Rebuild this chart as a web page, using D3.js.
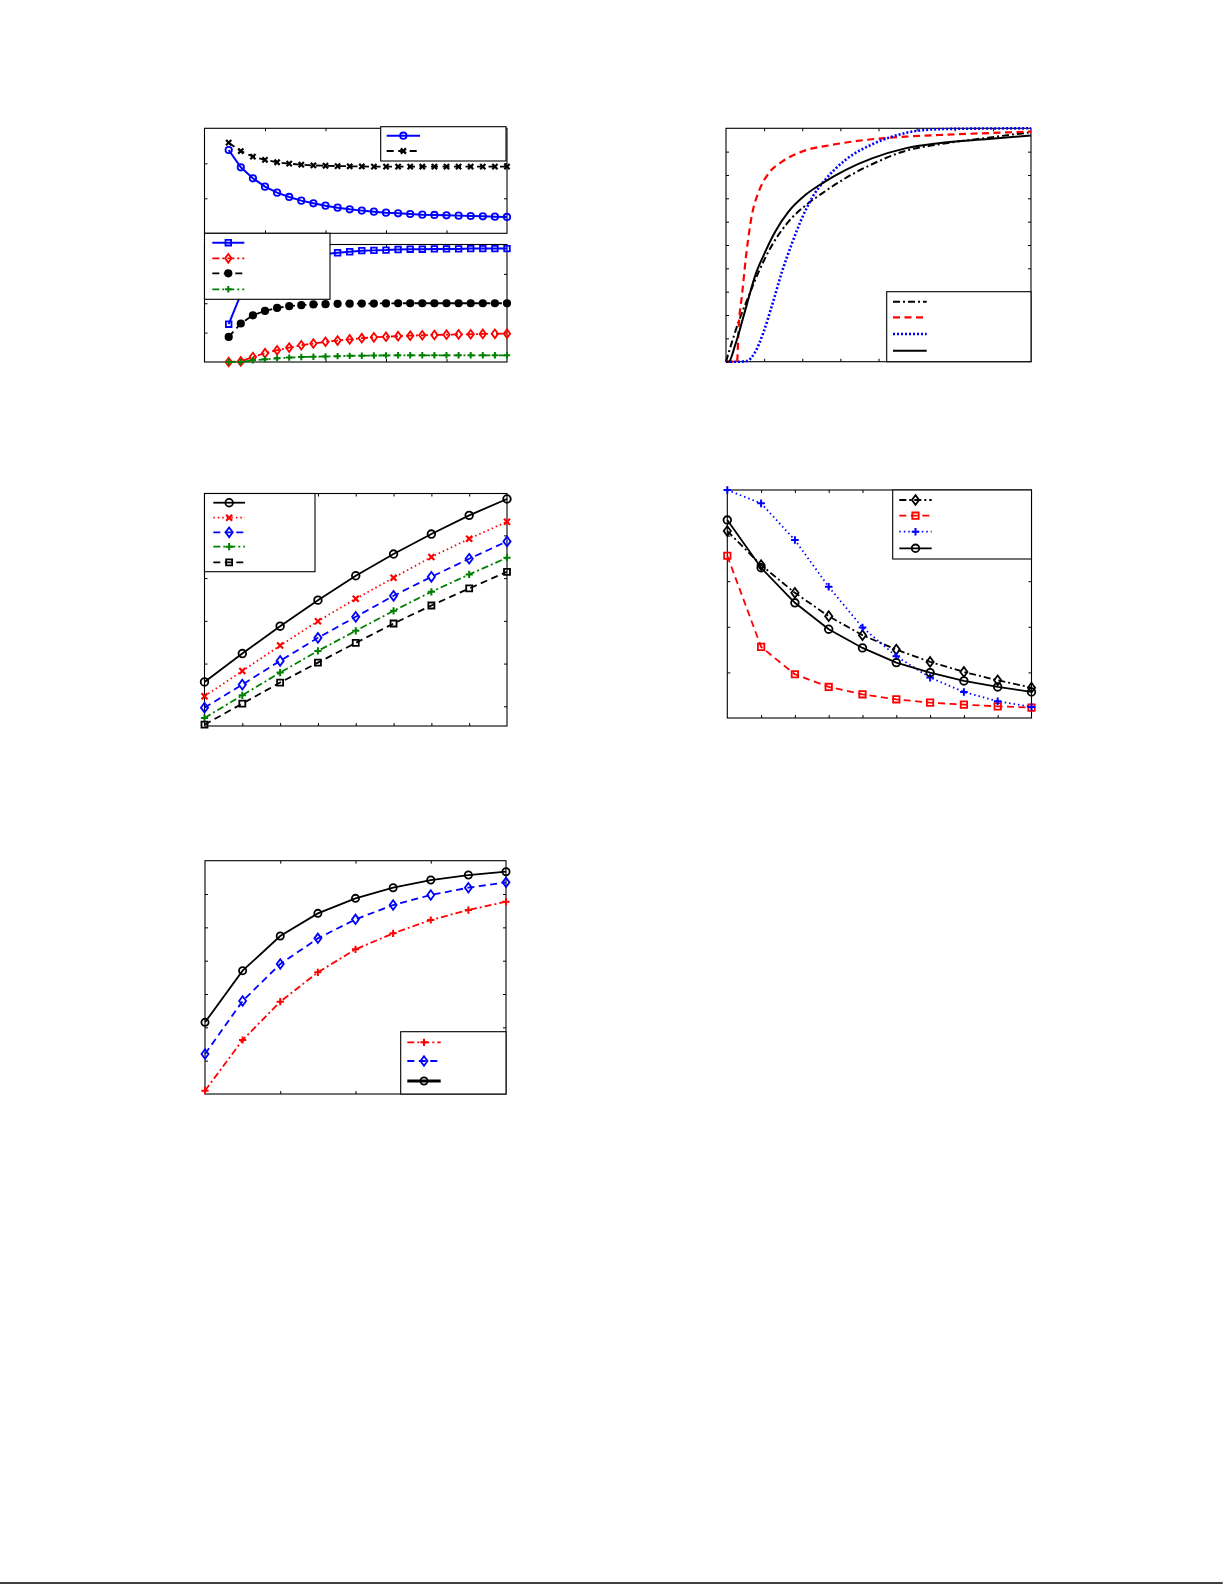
<!DOCTYPE html>
<html>
<head>
<meta charset="utf-8">
<script src="https://cdn.jsdelivr.net/npm/d3@7"></script>
<style>
  body { margin: 0; background: #fff; }
</style>
</head>
<body>
<svg id="page" width="1225" height="1585"></svg>
<script>
// ---- panel 1 (top left), two stacked axes, x = 2..25
var p1X = [2,3,4,5,6,7,8,9,10,11,12,13,14,15,16,17,18,19,20,21,22,23,24,25];
// upper axes
var p1Circle = [2.38,1.886,1.571,1.333,1.162,1.038,0.933,0.857,0.79,0.733,0.686,0.648,0.619,0.59,0.571,0.552,0.533,0.524,0.514,0.505,0.495,0.486,0.476,0.467];
var p1Cross  = [2.59,2.35,2.19,2.1,2.03,1.99,1.96,1.94,1.93,1.92,1.915,1.91,1.905,1.905,1.905,1.905,1.905,1.905,1.905,1.905,1.905,1.905,1.905,1.905];
// lower axes
var p1Square  = [1.287,2.3,2.85,3.15,3.35,3.48,3.57,3.63,3.68,3.72,3.754,3.79,3.8,3.81,3.83,3.84,3.84,3.85,3.85,3.85,3.86,3.86,3.86,3.86];
var p1Diamond = [0,0.02,0.17,0.3,0.4,0.49,0.57,0.63,0.69,0.73,0.77,0.81,0.84,0.86,0.88,0.895,0.91,0.92,0.93,0.94,0.945,0.955,0.96,0.965];
var p1Dot     = [0.855,1.31,1.59,1.74,1.84,1.9,1.935,1.96,1.97,1.98,1.985,1.99,1.99,1.995,2,2,2,2,2,2,2,2,2,2];
var p1Plus    = [0,0,0.06,0.09,0.125,0.15,0.17,0.18,0.19,0.2,0.21,0.215,0.22,0.225,0.228,0.228,0.228,0.228,0.228,0.228,0.228,0.228,0.228,0.228];

// ---- panel 2 (top right), smooth curves
var p2DashDotX = [0,0.16,0.33,0.59,0.86,1.21,1.64,2.08,2.52,3.13,3.83,4.7,5.57,6.88,8];
var p2DashDotY = [0,0.086,0.171,0.279,0.386,0.5,0.6,0.669,0.721,0.786,0.846,0.903,0.931,0.96,0.983];
var p2DashedX  = [0,0.29,0.33,0.42,0.55,0.68,0.86,1.12,1.47,1.99,2.78,3.65,4.7,6.01,8];
var p2DashedY  = [0,0,0.143,0.286,0.486,0.629,0.729,0.807,0.857,0.9,0.929,0.95,0.964,0.974,0.986];
var p2DottedX  = [0,0.33,0.55,0.77,0.99,1.21,1.47,1.73,1.99,2.25,2.6,3.13,3.83,4.35,5.05,5.75,8];
var p2DottedY  = [0,0,0.003,0.043,0.129,0.243,0.386,0.507,0.614,0.7,0.779,0.864,0.931,0.964,0.99,0.997,1];
var p2SolidX   = [0,0.07,0.24,0.42,0.59,0.77,0.99,1.29,1.64,2.08,2.52,3.13,3.83,4.7,5.57,6.88,8];
var p2SolidY   = [0,0,0.071,0.171,0.271,0.371,0.457,0.557,0.643,0.714,0.764,0.821,0.871,0.914,0.936,0.954,0.969];

// ---- panel 3 (middle left), x = 1..9
var p3X = [1,2,3,4,5,6,7,8,9];
var p3Circle  = [1.57,2.234,2.875,3.484,4.055,4.563,5.031,5.469,5.852];
var p3Cross   = [1.234,1.828,2.422,2.992,3.516,4.008,4.492,4.922,5.32];
var p3Diamond = [0.969,1.508,2.063,2.602,3.094,3.586,4.031,4.453,4.859];
var p3Plus    = [0.727,1.258,1.789,2.297,2.766,3.234,3.68,4.086,4.477];
var p3Square  = [0.57,1.063,1.555,2.023,2.484,2.938,3.359,3.758,4.148];

// ---- panel 4 (middle right), x = 1..10
var p4X = [1,2,3,4,5,6,7,8,9,10];
var p4Diamond = [4.1,3.353,2.745,2.233,1.816,1.501,1.23,1.01,0.827,0.666];
var p4Square  = [3.558,1.559,0.959,0.681,0.52,0.41,0.337,0.293,0.256,0.227];
var p4Plus    = [5,4.707,3.902,2.877,1.984,1.354,0.886,0.571,0.366,0.242];
var p4Circle  = [4.341,3.294,2.526,1.947,1.537,1.215,0.996,0.813,0.681,0.571];

// ---- panel 5 (bottom left), x = 1..9
var p5X = [1,2,3,4,5,6,7,8,9];
var p5Plus    = [0.1,1.62,2.77,3.65,4.34,4.82,5.22,5.52,5.77];
var p5Diamond = [1.2,2.79,3.9,4.67,5.24,5.67,5.97,6.19,6.35];
var p5Circle  = [2.15,3.7,4.74,5.42,5.87,6.19,6.42,6.57,6.67];

var svg = d3.select('#page');

var dashes = { solid: null, dashed: '7,4.5', dotted: '1.5,3', dashdot: '7,3,2,3', fine: '2,2' };

// one axes box with inward ticks on all four sides
function panel(box, xDom, yDom, xTicks, yTicks) {
    var x = d3.scaleLinear().domain(xDom).range([box.left, box.right]);
    var y = d3.scaleLinear().domain(yDom).range([box.bottom, box.top]);
    var g = svg.append('g');
    var axes = [
        [d3.axisBottom(x).tickValues(xTicks), 'translate(0,' + box.bottom + ')'],
        [d3.axisTop(x).tickValues(xTicks), 'translate(0,' + box.top + ')'],
        [d3.axisLeft(y).tickValues(yTicks), 'translate(' + box.left + ',0)'],
        [d3.axisRight(y).tickValues(yTicks), 'translate(' + box.right + ',0)']
    ];
    axes.forEach(function(a) {
        var ax = g.append('g').attr('transform', a[1])
            .call(a[0].tickSizeInner(-3).tickSizeOuter(0).tickFormat(''));
        ax.select('.domain').remove();
        ax.selectAll('line').attr('stroke', '#000').attr('stroke-width', 1);
    });
    g.append('rect')
        .attr('x', box.left).attr('y', box.top)
        .attr('width', box.right - box.left).attr('height', box.bottom - box.top)
        .attr('fill', 'none').attr('stroke', '#000').attr('stroke-width', 1.1);
    return { g: g, x: x, y: y };
}

function marker(g, cx, cy, st) {
    var s = st.size || 3.5;
    var m;
    if (st.marker === 'circle' || st.marker === 'dot') {
        m = g.append('circle').attr('cx', cx).attr('cy', cy).attr('r', s);
    } else {
        var d;
        if (st.marker === 'square') d = 'M' + (-s) + ',' + (-s) + 'H' + s + 'V' + s + 'H' + (-s) + 'Z';
        if (st.marker === 'diamond') d = 'M0,' + (-s * 1.35) + 'L' + s + ',0L0,' + (s * 1.35) + 'L' + (-s) + ',0Z';
        if (st.marker === 'plus') d = 'M' + (-s) + ',0H' + s + 'M0,' + (-s) + 'V' + s;
        if (st.marker === 'x') d = 'M' + (-s) + ',' + (-s) + 'L' + s + ',' + s + 'M' + (-s) + ',' + s + 'L' + s + ',' + (-s);
        m = g.append('path').attr('d', d).attr('transform', 'translate(' + cx + ',' + cy + ')');
    }
    m.attr('fill', st.marker === 'dot' ? st.color : 'none')
        .attr('stroke', st.color)
        .attr('stroke-width', st.mw || 1.8);
}

function series(p, xs, ys, st) {
    var pts = xs.map(function(d, i) { return [d, ys[i]]; });
    var line = d3.line()
        .x(function(d) { return p.x(d[0]); })
        .y(function(d) { return p.y(d[1]); })
        .curve(st.curve || d3.curveLinear);
    p.g.append('path')
        .attr('d', line(pts))
        .attr('fill', 'none')
        .attr('stroke', st.color)
        .attr('stroke-width', st.width || 1.8)
        .attr('stroke-dasharray', dashes[st.dash]);
    if (st.marker) {
        pts.forEach(function(d) { marker(p.g, p.x(d[0]), p.y(d[1]), st); });
    }
}

// legend box: entries drawn as short line samples, no text visible in the source
function legend(box, lineX, rows) {
    var g = svg.append('g');
    g.append('rect')
        .attr('x', box[0]).attr('y', box[1])
        .attr('width', box[2] - box[0]).attr('height', box[3] - box[1])
        .attr('fill', '#fff').attr('stroke', '#000').attr('stroke-width', 1.1);
    rows.forEach(function(r) {
        var st = r[1];
        g.append('line')
            .attr('x1', lineX[0]).attr('x2', lineX[1])
            .attr('y1', r[0]).attr('y2', r[0])
            .attr('stroke', st.color)
            .attr('stroke-width', st.legendWidth || st.width || 1.8)
            .attr('stroke-dasharray', dashes[st.dash]);
        if (st.marker) marker(g, (lineX[0] + lineX[1]) / 2, r[0], st);
    });
}

// ---------- panel 1
var s1Circle  = { color: '#0000ff', dash: 'solid', marker: 'circle', size: 3.2, width: 2 };
var s1Cross   = { color: '#000', dash: 'dashed', marker: 'x', size: 2.6, mw: 2.2 };
var s1Square  = { color: '#0000ff', dash: 'solid', marker: 'square', size: 2.8, width: 2 };
var s1Diamond = { color: '#ff0000', dash: 'dashdot', marker: 'diamond', size: 3.2, mw: 1.8 };
var s1Dot     = { color: '#000', dash: 'dashed', marker: 'dot', size: 3.2 };
var s1Plus    = { color: '#008000', dash: 'dashdot', marker: 'plus', size: 3.2, mw: 2 };

var p1a = panel({ left: 204.5, right: 507, top: 128.3, bottom: 233.3 }, [0, 25], [0, 3], [5, 10, 15, 20], [1, 2]);
series(p1a, p1X, p1Cross, s1Cross);
series(p1a, p1X, p1Circle, s1Circle);
var p1b = panel({ left: 204.5, right: 507, top: 244.5, bottom: 362 }, [0, 25], [0, 4], [5, 10, 15, 20], [1, 2, 3]);
series(p1b, p1X, p1Square, s1Square);
series(p1b, p1X, p1Diamond, s1Diamond);
series(p1b, p1X, p1Dot, s1Dot);
series(p1b, p1X, p1Plus, s1Plus);
legend([380.7, 126.7, 506, 161], [386.7, 420], [[135.7, s1Circle], [151, s1Cross]]);
legend([204.5, 233.3, 330, 299.3], [212.3, 244.3], [[242.7, s1Square], [258.3, s1Diamond], [273.3, s1Dot], [289.3, s1Plus]]);

// ---------- panel 2
var s2DashDot = { color: '#000', dash: 'dashdot', width: 2, curve: d3.curveMonotoneX };
var s2Dashed  = { color: '#ff0000', dash: 'dashed', width: 2.2, curve: d3.curveMonotoneX };
var s2Dotted  = { color: '#0000ff', dash: 'fine', width: 2.6, curve: d3.curveMonotoneX };
var s2Solid   = { color: '#000', dash: 'solid', width: 2, curve: d3.curveMonotoneX };

var p2 = panel({ left: 726, right: 1031, top: 128.3, bottom: 361.7 }, [0, 8], [0, 1],
    [1, 2, 3, 4, 5, 6, 7], [0.1, 0.2, 0.3, 0.4, 0.5, 0.6, 0.7, 0.8, 0.9]);
series(p2, p2DashDotX, p2DashDotY, s2DashDot);
series(p2, p2DashedX, p2DashedY, s2Dashed);
series(p2, p2DottedX, p2DottedY, s2Dotted);
series(p2, p2SolidX, p2SolidY, s2Solid);
legend([886.7, 291.7, 1031, 361.7], [893, 926.7], [[301.7, s2DashDot], [317.3, s2Dashed], [334, s2Dotted], [350.7, s2Solid]]);

// ---------- panel 3
var s3Circle  = { color: '#000', dash: 'solid', marker: 'circle', size: 3.8 };
var s3Cross   = { color: '#ff0000', dash: 'dotted', marker: 'x', size: 3, mw: 2.2 };
var s3Diamond = { color: '#0000ff', dash: 'dashed', marker: 'diamond', size: 3.6 };
var s3Plus    = { color: '#008000', dash: 'dashdot', marker: 'plus', size: 3.6, mw: 2 };
var s3Square  = { color: '#000', dash: 'dashed', marker: 'square', size: 3 };

var p3 = panel({ left: 204.5, right: 507, top: 493.5, bottom: 726 }, [1, 9], [0.539, 5.98],
    [2, 3, 4, 5, 6, 7, 8], [1, 2, 3, 4, 5]);
series(p3, p3X, p3Circle, s3Circle);
series(p3, p3X, p3Cross, s3Cross);
series(p3, p3X, p3Diamond, s3Diamond);
series(p3, p3X, p3Plus, s3Plus);
series(p3, p3X, p3Square, s3Square);
legend([204.5, 493.5, 315, 571.7], [213.3, 245], [[502.7, s3Circle], [517.7, s3Cross], [532.3, s3Diamond], [546.7, s3Plus], [562.3, s3Square]]);

// ---------- panel 4
var s4Diamond = { color: '#000', dash: 'dashdot', marker: 'diamond', size: 3.6 };
var s4Square  = { color: '#ff0000', dash: 'dashed', marker: 'square', size: 3.2 };
var s4Plus    = { color: '#0000ff', dash: 'dotted', marker: 'plus', size: 3.8, mw: 2 };
var s4Circle  = { color: '#000', dash: 'solid', marker: 'circle', size: 3.8 };

var p4 = panel({ left: 727.3, right: 1031.5, top: 490, bottom: 718 }, [1, 10], [0, 5],
    [2, 3, 4, 5, 6, 7, 8, 9], [1, 2, 3, 4]);
series(p4, p4X, p4Diamond, s4Diamond);
series(p4, p4X, p4Square, s4Square);
series(p4, p4X, p4Plus, s4Plus);
series(p4, p4X, p4Circle, s4Circle);
legend([892.7, 490, 1031.5, 559], [899.3, 931.7], [[500, s4Diamond], [515.7, s4Square], [531.7, s4Plus], [548.3, s4Circle]]);

// ---------- panel 5
var s5Plus    = { color: '#ff0000', dash: 'dashdot', marker: 'plus', size: 3.6, mw: 2 };
var s5Diamond = { color: '#0000ff', dash: 'dashed', marker: 'diamond', size: 3.5 };
var s5Circle  = { color: '#000', dash: 'solid', marker: 'circle', size: 3.6, legendWidth: 2.8 };

var p5 = panel({ left: 205, right: 506, top: 860.7, bottom: 1094 }, [1, 9], [0, 7],
    [3, 5, 7], [1, 2, 3, 4, 5, 6]);
series(p5, p5X, p5Plus, s5Plus);
series(p5, p5X, p5Diamond, s5Diamond);
series(p5, p5X, p5Circle, s5Circle);
legend([400.7, 1031.7, 506, 1094], [407.3, 440.7], [[1042.3, s5Plus], [1061, s5Diamond], [1081, s5Circle]]);

// page rule at the bottom
svg.append('line')
    .attr('x1', 0).attr('x2', 1222.7)
    .attr('y1', 1583).attr('y2', 1583)
    .attr('stroke', '#000').attr('stroke-width', 1.5);
</script>
</body>
</html>
